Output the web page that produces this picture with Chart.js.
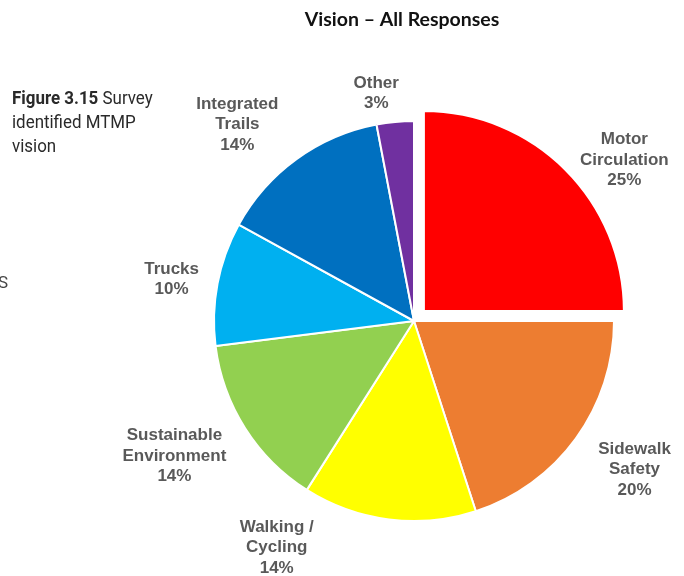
<!DOCTYPE html>
<html>
<head>
<meta charset="utf-8">
<script src="https://cdn.jsdelivr.net/npm/chart.js@4.4.1/dist/chart.umd.min.js"></script>
<style>
  html, body { margin: 0; padding: 0; background: #fff; }
  #visionChart { display: block; }
</style>
</head>
<body>
<canvas id="visionChart" width="684" height="576"></canvas>
<script>
// survey answers, clockwise from 12 o'clock
const categories = ['Motor Circulation', 'Sidewalk Safety', 'Walking / Cycling', 'Sustainable Environment', 'Trucks', 'Integrated Trails', 'Other'];
const labelLines = [['Motor', 'Circulation'], ['Sidewalk', 'Safety'], ['Walking /', 'Cycling'], ['Sustainable', 'Environment'], ['Trucks'], ['Integrated', 'Trails'], ['Other']];
const shares = [25, 20, 14, 14, 10, 14, 3];

const sliceColors = ['#FF0000', '#ED7D31', '#FFFF00', '#92D050', '#00B0F0', '#0070C0', '#7030A0'];
// Chart.js pulls an arc out by offset / 4 (for a quarter slice)
const sliceOffsets = [56, 0, 0, 0, 0, 0, 0];

// how far out each label sits past the rim, and how much it is turned off the slice middle (deg)
const labelGap = [51, 66, 65, 75, 46, 64, 31];
const labelTurn = [8, -2, 24, 3, -1, -6, -4];

// same shift ArcElement.draw applies to an offset slice
function arcShift(arc) {
    const off = (arc.options.offset || 0) / 4;
    const fix = 1 - Math.sin(Math.min(Math.PI, arc.circumference || 0));
    return off + off * fix;
}

const outsideLabels = {
    id: 'outsideLabels',
    afterDatasetsDraw(chart) {
        const ctx = chart.ctx;
        const meta = chart.getDatasetMeta(0);
        ctx.save();
        ctx.font = 'bold 17px "Liberation Sans", Arial, sans-serif';
        ctx.fillStyle = '#595959';
        ctx.textAlign = 'center';
        ctx.textBaseline = 'middle';
        meta.data.forEach(function(arc, i) {
            const p = arc.getProps(['x', 'y', 'startAngle', 'endAngle', 'outerRadius'], true);
            const mid = (p.startAngle + p.endAngle) / 2;
            const shift = arcShift(arc);
            const ox = p.x + Math.cos(mid) * shift;
            const oy = p.y + Math.sin(mid) * shift;
            const a = mid + labelTurn[i] * Math.PI / 180;
            const dist = p.outerRadius + labelGap[i];
            const cx = ox + Math.cos(a) * dist;
            const cy = oy + Math.sin(a) * dist;
            const lines = labelLines[i].concat([shares[i] + '%']);
            lines.forEach(function(line, k) {
                ctx.fillText(line, cx, cy + (k - (lines.length - 1) / 2) * 20.5);
            });
        });
        ctx.restore();
    }
};

const pageText = {
    id: 'pageText',
    afterDraw(chart) {
        const ctx = chart.ctx;
        ctx.save();
        // chart heading
        ctx.font = 'bold 19.5px Lato, "Open Sans", sans-serif';
        ctx.fillStyle = '#111';
        ctx.textAlign = 'center';
        ctx.textBaseline = 'alphabetic';
        ctx.fillText('Vision \u2013 All Responses', 402, 26);

        // figure caption, narrow face
        ctx.textAlign = 'left';
        ctx.fillStyle = '#2a2a2a';
        ctx.translate(12, 0);
        ctx.scale(0.94, 1);
        ctx.font = 'bold 18px Roboto, sans-serif';
        ctx.fillText('Figure 3.15', 0, 104);
        const w = ctx.measureText('Figure 3.15 ').width;
        ctx.font = '18px Roboto, sans-serif';
        ctx.fillText('Survey', w, 104);
        ctx.fillText('identified MTMP', 0, 128);
        ctx.fillText('vision', 0, 152);
        ctx.restore();

        ctx.save();
        ctx.font = '17px Roboto, sans-serif';
        ctx.fillStyle = '#444';
        ctx.fillText('S', -2, 288);
        ctx.restore();
    }
};

const visionData = {
    labels: categories,
    datasets: [{
        data: shares,
        backgroundColor: sliceColors,
        borderColor: '#ffffff',
        borderWidth: 2,
        offset: sliceOffsets
    }]
};

const visionCtx = document.getElementById('visionChart').getContext('2d');
const visionChart = new Chart(visionCtx, {
    type: 'pie',
    data: visionData,
    options: {
        responsive: false,
        animation: false,
        radius: 200,
        layout: { padding: { left: 194, right: 50, top: 101, bottom: 35 } },
        plugins: {
            legend: { display: false },
            tooltip: { enabled: false },
            title: { display: false }
        }
    },
    plugins: [outsideLabels, pageText]
});
</script>
</body>
</html>
